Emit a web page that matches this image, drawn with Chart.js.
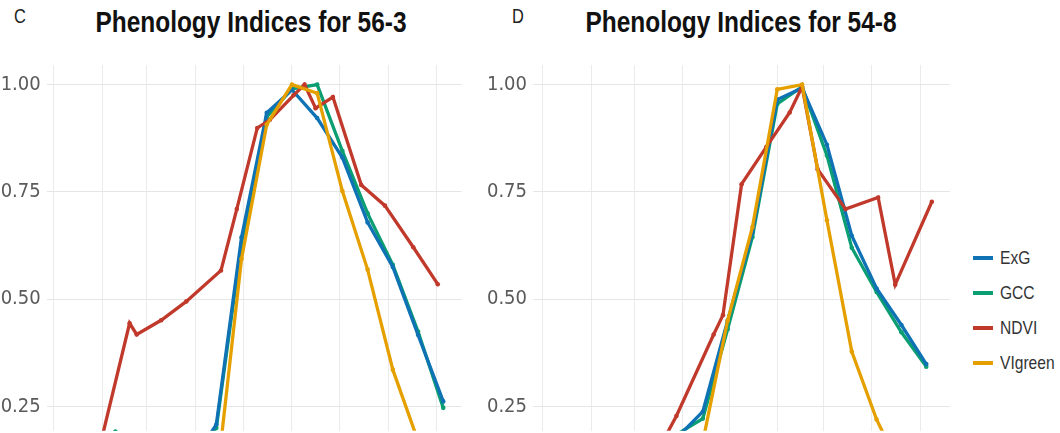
<!DOCTYPE html>
<html>
<head>
<meta charset="utf-8">
<script src="https://cdn.jsdelivr.net/npm/chart.js@4"></script>
<style>
  html, body { margin: 0; padding: 0; background: #fff; overflow: hidden; }
  body { width: 1060px; height: 433px; position: relative; }
  canvas { position: absolute; top: 0; }
  .ttl { position: absolute; top: 5px; font-family: 'Liberation Sans', Arial, sans-serif; font-weight: bold; font-size: 30px; color: #111; white-space: nowrap; transform: translateX(-50%) scaleX(0.815); }
  .tag { position: absolute; top: 5px; font-family: 'Liberation Sans', Arial, sans-serif; font-size: 20px; color: #222; transform: scaleX(0.82); transform-origin: left center; }
  .leg { position: absolute; left: 973px; font-family: 'Liberation Sans', Arial, sans-serif; font-size: 19px; color: #333; display: flex; align-items: center; height: 20px; }
  .leg span { display: inline-block; transform: scaleX(0.82); transform-origin: left center; }
  .sw { width: 20px; height: 4px; margin-right: 7px; }
</style>
</head>
<body>
<div class="tag" style="left:14px">C</div>
<div class="ttl" id="t1" style="left:251px"></div>
<div class="tag" style="left:512px">D</div>
<div class="ttl" id="t2" style="left:741px"></div>
<canvas id="c1" width="480" height="433" style="left:0px"></canvas>
<canvas id="c2" width="480" height="433" style="left:480px"></canvas>
<div id="legend"></div>
<script>
// ---- data ----
const titles = ['Phenology Indices for 56-3', 'Phenology Indices for 54-8'];
const seriesNames = ['ExG', 'GCC', 'NDVI', 'VIgreen'];
const seriesColors = ['#0F72B4', '#0A9E72', '#C0392B', '#E5A000'];
const yTicks = [0.25, 0.50, 0.75, 1.00];
const monthStarts = [0, 31, 59, 90, 120, 151, 181, 212, 243]; // day of year of month starts (Jan..Sep)

// 16-day composite dates (day of year) for ExG, GCC, VIgreen
const compDays = [7, 23, 39, 55, 71, 87, 103, 119, 135, 151, 167, 183, 199, 215, 231, 247];

// Panel C : 56-3
const exg563     = [0.10, 0.11, 0.12, 0.11, 0.11, 0.12, 0.208, 0.644, 0.934, 0.988, 0.922, 0.830, 0.679, 0.575, 0.417, 0.262];
const gcc563     = [0.14, 0.16, 0.192, 0.15, 0.13, 0.13, 0.200, 0.630, 0.925, 0.990, 1.000, 0.845, 0.700, 0.580, 0.425, 0.247];
const vigreen563 = [0.05, 0.06, 0.07, 0.06, 0.06, 0.06, 0.070, 0.594, 0.907, 1.000, 0.980, 0.752, 0.569, 0.336, 0.170, 0.080];
const ndviDays563 = [10, 28, 48, 52.5, 68, 84, 106, 116, 129, 137, 152, 159, 166, 177, 195, 210, 228, 243.5];
const ndvi563     = [0.12, 0.14, 0.444, 0.418, 0.451, 0.495, 0.567, 0.710, 0.899, 0.918, 0.975, 1.000, 0.945, 0.971, 0.766, 0.718, 0.621, 0.535];

// Panel D : 54-8
const exg548     = [0.10, 0.10, 0.11, 0.12, 0.14, 0.180, 0.238, 0.450, 0.655, 0.965, 0.992, 0.860, 0.648, 0.525, 0.440, 0.349];
const gcc548     = [0.10, 0.10, 0.11, 0.12, 0.14, 0.187, 0.222, 0.430, 0.645, 0.955, 0.995, 0.835, 0.620, 0.517, 0.423, 0.343];
const vigreen548 = [0.05, 0.05, 0.05, 0.06, 0.07, 0.08, 0.168, 0.450, 0.668, 0.989, 1.000, 0.684, 0.378, 0.220, 0.100, 0.050];
const ndviDays548 = [55, 70, 86, 110, 116, 128, 144, 159, 167, 177, 195, 216, 227, 250.6];
const ndvi548     = [0.10, 0.12, 0.228, 0.418, 0.463, 0.768, 0.855, 0.935, 0.995, 0.803, 0.710, 0.737, 0.534, 0.727];

// ---- build ----
const pts = (days, vals) => days.map((d, i) => ({ x: d, y: vals[i] }));
const drawOrder = [2, 3, 1, 0]; // GCC bottom, ExG, NDVI, VIgreen on top

function datasets(seriesData) {
  return seriesData.map((d, i) => ({
    label: seriesNames[i],
    data: d,
    borderColor: seriesColors[i],
    backgroundColor: seriesColors[i],
    borderWidth: 3.3,
    pointRadius: 2.3,
    pointHoverRadius: 2.3,
    pointBorderWidth: 0,
    tension: 0,
    order: drawOrder[i],
    clip: 0
  }));
}

const FONT = "'DejaVu Sans Condensed', 'Liberation Sans', sans-serif";

function makeChart(id, seriesData, xMin, xMax, yAxisWidth, padRight) {
  return new Chart(document.getElementById(id), {
    type: 'line',
    data: { datasets: datasets(seriesData) },
    options: {
      responsive: false,
      animation: false,
      devicePixelRatio: 1,
      layout: { padding: { left: 0, right: padRight, top: 65, bottom: -3 } },
      plugins: { legend: { display: false }, tooltip: { enabled: false }, title: { display: false } },
      scales: {
        x: {
          type: 'linear', min: xMin, max: xMax,
          afterBuildTicks: s => { s.ticks = monthStarts.map(v => ({ value: v })); },
          afterFit: s => { s.height = 0; s.paddingLeft = 0; s.paddingRight = 0; s.paddingTop = 0; s.paddingBottom = 0; },
          ticks: { display: false },
          grid: { color: '#EBEBEB', lineWidth: 1, drawTicks: false },
          border: { display: false }
        },
        y: {
          type: 'linear', min: 0.1938, max: 1.0456,
          afterBuildTicks: s => { s.ticks = yTicks.map(v => ({ value: v })); },
          afterFit: s => { s.width = yAxisWidth; s.paddingTop = 0; s.paddingBottom = 0; },
          ticks: { callback: v => Number(v).toFixed(2), color: '#5a5a5a', font: { family: FONT, size: 20 }, padding: 6 },
          grid: { color: '#E6E6E6', lineWidth: 1, drawTicks: false },
          border: { display: false }
        }
      }
    }
  });
}

document.getElementById('t1').textContent = titles[0];
document.getElementById('t2').textContent = titles[1];

makeChart('c1', [pts(compDays, exg563), pts(compDays, gcc563), pts(ndviDays563, ndvi563), pts(compDays, vigreen563)], -4.6, 258.7, 46.7, 18.3);
makeChart('c2', [pts(compDays, exg548), pts(compDays, gcc548), pts(ndviDays548, ndvi548), pts(compDays, vigreen548)], -6.4, 262.3, 53, 10);

// legend (HTML, built from the series arrays)
const legTops = [248, 283, 318, 353];
const leg = document.getElementById('legend');
seriesNames.forEach((n, i) => {
  const row = document.createElement('div');
  row.className = 'leg';
  row.style.top = legTops[i] + 'px';
  const sw = document.createElement('div');
  sw.className = 'sw';
  sw.style.background = seriesColors[i];
  const tx = document.createElement('span');
  tx.textContent = n;
  row.appendChild(sw); row.appendChild(tx);
  leg.appendChild(row);
});
</script>
</body>
</html>
